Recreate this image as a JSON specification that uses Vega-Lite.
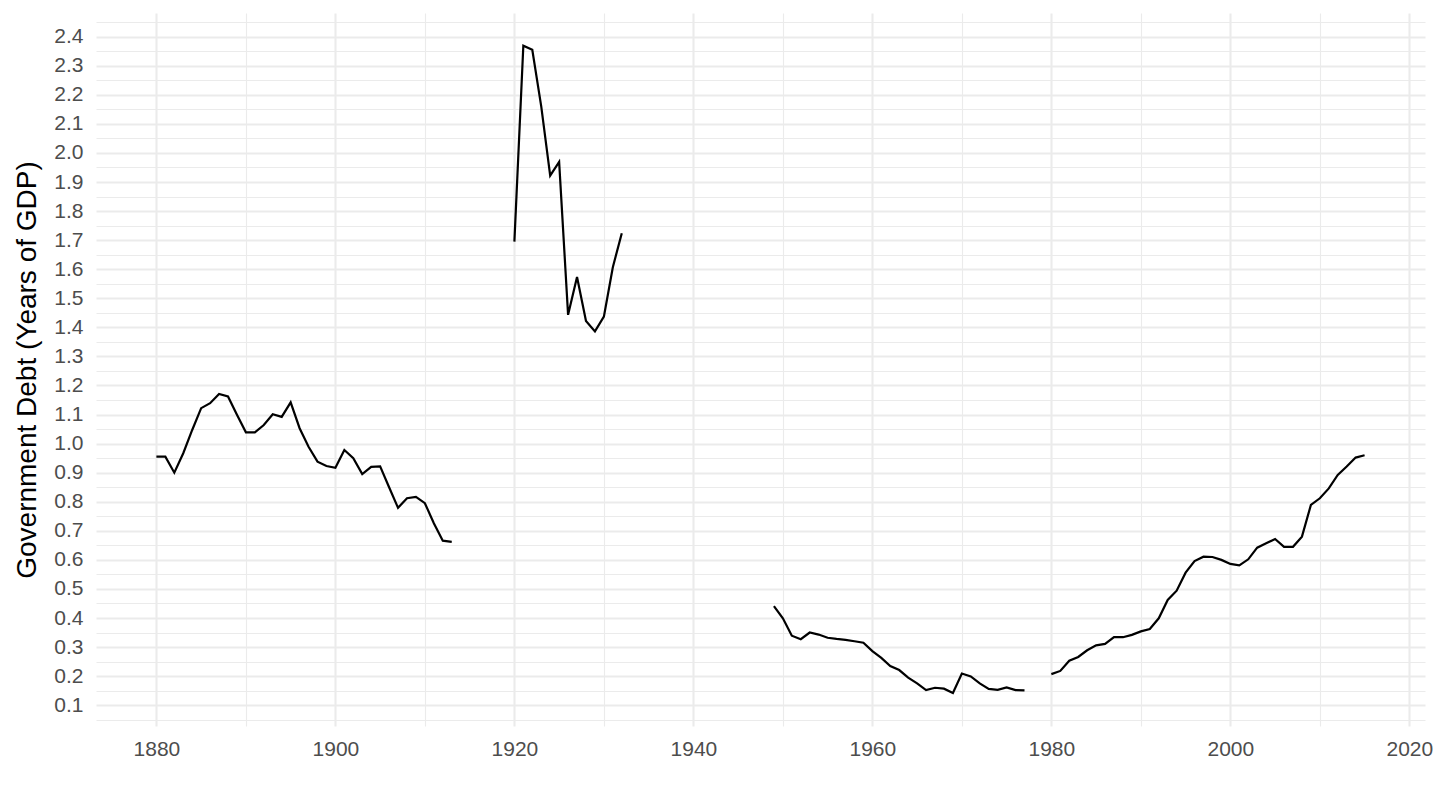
{
  "$schema": "https://vega.github.io/schema/vega-lite/v6.json",
  "width": 1329,
  "height": 713,
  "autosize": {"type": "none"},
  "padding": {"left": 96, "top": 13, "right": 15, "bottom": 84},
  "background": "white",
  "config": {
    "view": {"stroke": null},
    "font": "Liberation Sans"
  },
  "data": {
    "values": [
      {"year": 1880, "debt": 0.955, "seg": "a"},
      {"year": 1881, "debt": 0.955, "seg": "a"},
      {"year": 1882, "debt": 0.900, "seg": "a"},
      {"year": 1883, "debt": 0.967, "seg": "a"},
      {"year": 1884, "debt": 1.047, "seg": "a"},
      {"year": 1885, "debt": 1.122, "seg": "a"},
      {"year": 1886, "debt": 1.139, "seg": "a"},
      {"year": 1887, "debt": 1.171, "seg": "a"},
      {"year": 1888, "debt": 1.162, "seg": "a"},
      {"year": 1889, "debt": 1.099, "seg": "a"},
      {"year": 1890, "debt": 1.039, "seg": "a"},
      {"year": 1891, "debt": 1.039, "seg": "a"},
      {"year": 1892, "debt": 1.064, "seg": "a"},
      {"year": 1893, "debt": 1.101, "seg": "a"},
      {"year": 1894, "debt": 1.092, "seg": "a"},
      {"year": 1895, "debt": 1.142, "seg": "a"},
      {"year": 1896, "debt": 1.053, "seg": "a"},
      {"year": 1897, "debt": 0.989, "seg": "a"},
      {"year": 1898, "debt": 0.938, "seg": "a"},
      {"year": 1899, "debt": 0.923, "seg": "a"},
      {"year": 1900, "debt": 0.917, "seg": "a"},
      {"year": 1901, "debt": 0.978, "seg": "a"},
      {"year": 1902, "debt": 0.950, "seg": "a"},
      {"year": 1903, "debt": 0.895, "seg": "a"},
      {"year": 1904, "debt": 0.920, "seg": "a"},
      {"year": 1905, "debt": 0.922, "seg": "a"},
      {"year": 1906, "debt": 0.850, "seg": "a"},
      {"year": 1907, "debt": 0.779, "seg": "a"},
      {"year": 1908, "debt": 0.812, "seg": "a"},
      {"year": 1909, "debt": 0.817, "seg": "a"},
      {"year": 1910, "debt": 0.795, "seg": "a"},
      {"year": 1911, "debt": 0.726, "seg": "a"},
      {"year": 1912, "debt": 0.666, "seg": "a"},
      {"year": 1913, "debt": 0.662, "seg": "a"},
      {"year": 1920, "debt": 1.695, "seg": "b"},
      {"year": 1921, "debt": 2.369, "seg": "b"},
      {"year": 1922, "debt": 2.355, "seg": "b"},
      {"year": 1923, "debt": 2.160, "seg": "b"},
      {"year": 1924, "debt": 1.922, "seg": "b"},
      {"year": 1925, "debt": 1.969, "seg": "b"},
      {"year": 1926, "debt": 1.443, "seg": "b"},
      {"year": 1927, "debt": 1.573, "seg": "b"},
      {"year": 1928, "debt": 1.422, "seg": "b"},
      {"year": 1929, "debt": 1.386, "seg": "b"},
      {"year": 1930, "debt": 1.437, "seg": "b"},
      {"year": 1931, "debt": 1.607, "seg": "b"},
      {"year": 1932, "debt": 1.724, "seg": "b"},
      {"year": 1949, "debt": 0.441, "seg": "c"},
      {"year": 1950, "debt": 0.399, "seg": "c"},
      {"year": 1951, "debt": 0.339, "seg": "c"},
      {"year": 1952, "debt": 0.327, "seg": "c"},
      {"year": 1953, "debt": 0.350, "seg": "c"},
      {"year": 1954, "debt": 0.343, "seg": "c"},
      {"year": 1955, "debt": 0.332, "seg": "c"},
      {"year": 1956, "debt": 0.328, "seg": "c"},
      {"year": 1957, "debt": 0.325, "seg": "c"},
      {"year": 1958, "debt": 0.320, "seg": "c"},
      {"year": 1959, "debt": 0.315, "seg": "c"},
      {"year": 1960, "debt": 0.286, "seg": "c"},
      {"year": 1961, "debt": 0.263, "seg": "c"},
      {"year": 1962, "debt": 0.235, "seg": "c"},
      {"year": 1963, "debt": 0.221, "seg": "c"},
      {"year": 1964, "debt": 0.195, "seg": "c"},
      {"year": 1965, "debt": 0.175, "seg": "c"},
      {"year": 1966, "debt": 0.152, "seg": "c"},
      {"year": 1967, "debt": 0.160, "seg": "c"},
      {"year": 1968, "debt": 0.157, "seg": "c"},
      {"year": 1969, "debt": 0.142, "seg": "c"},
      {"year": 1970, "debt": 0.209, "seg": "c"},
      {"year": 1971, "debt": 0.199, "seg": "c"},
      {"year": 1972, "debt": 0.175, "seg": "c"},
      {"year": 1973, "debt": 0.156, "seg": "c"},
      {"year": 1974, "debt": 0.153, "seg": "c"},
      {"year": 1975, "debt": 0.161, "seg": "c"},
      {"year": 1976, "debt": 0.152, "seg": "c"},
      {"year": 1977, "debt": 0.151, "seg": "c"},
      {"year": 1980, "debt": 0.207, "seg": "d"},
      {"year": 1981, "debt": 0.218, "seg": "d"},
      {"year": 1982, "debt": 0.253, "seg": "d"},
      {"year": 1983, "debt": 0.266, "seg": "d"},
      {"year": 1984, "debt": 0.289, "seg": "d"},
      {"year": 1985, "debt": 0.306, "seg": "d"},
      {"year": 1986, "debt": 0.311, "seg": "d"},
      {"year": 1987, "debt": 0.334, "seg": "d"},
      {"year": 1988, "debt": 0.334, "seg": "d"},
      {"year": 1989, "debt": 0.342, "seg": "d"},
      {"year": 1990, "debt": 0.354, "seg": "d"},
      {"year": 1991, "debt": 0.362, "seg": "d"},
      {"year": 1992, "debt": 0.399, "seg": "d"},
      {"year": 1993, "debt": 0.462, "seg": "d"},
      {"year": 1994, "debt": 0.494, "seg": "d"},
      {"year": 1995, "debt": 0.556, "seg": "d"},
      {"year": 1996, "debt": 0.596, "seg": "d"},
      {"year": 1997, "debt": 0.611, "seg": "d"},
      {"year": 1998, "debt": 0.610, "seg": "d"},
      {"year": 1999, "debt": 0.600, "seg": "d"},
      {"year": 2000, "debt": 0.586, "seg": "d"},
      {"year": 2001, "debt": 0.581, "seg": "d"},
      {"year": 2002, "debt": 0.602, "seg": "d"},
      {"year": 2003, "debt": 0.642, "seg": "d"},
      {"year": 2004, "debt": 0.657, "seg": "d"},
      {"year": 2005, "debt": 0.672, "seg": "d"},
      {"year": 2006, "debt": 0.645, "seg": "d"},
      {"year": 2007, "debt": 0.645, "seg": "d"},
      {"year": 2008, "debt": 0.680, "seg": "d"},
      {"year": 2009, "debt": 0.789, "seg": "d"},
      {"year": 2010, "debt": 0.812, "seg": "d"},
      {"year": 2011, "debt": 0.846, "seg": "d"},
      {"year": 2012, "debt": 0.892, "seg": "d"},
      {"year": 2013, "debt": 0.921, "seg": "d"},
      {"year": 2014, "debt": 0.952, "seg": "d"},
      {"year": 2015, "debt": 0.960, "seg": "d"}
    ]
  },
  "mark": {"type": "line", "color": "black", "strokeWidth": 2.2},
  "encoding": {
    "x": {
      "field": "year",
      "type": "quantitative",
      "scale": {"domain": [1873.25, 2021.75], "nice": false, "zero": false},
      "axis": {
        "title": null,
        "values": [1880, 1890, 1900, 1910, 1920, 1930, 1940, 1950, 1960, 1970, 1980, 1990, 2000, 2010, 2020],
        "format": "d",
        "labelExpr": "datum.value % 20 == 0 ? datum.label : ''",
        "labelOverlap": false,
        "labelFlush": false,
        "labelFont": "Liberation Sans",
        "labelFontSize": 21,
        "labelColor": "#4D4D4D",
        "labelPadding": 12,
        "ticks": false,
        "domain": false,
        "grid": true,
        "gridColor": "#EBEBEB",
        "gridWidth": {"condition": {"test": "datum.value % 20 == 0", "value": 2.1}, "value": 1.1}
      }
    },
    "y": {
      "field": "debt",
      "type": "quantitative",
      "scale": {"domain": [0.0285, 2.4815], "nice": false, "zero": false},
      "axis": {
        "title": "Government Debt (Years of GDP)",
        "titleFont": "Liberation Sans",
        "titleFontSize": 28,
        "titleFontWeight": "normal",
        "titleColor": "black",
        "titleX": -61,
        "titleBaseline": "alphabetic",
        "values": [0.05, 0.1, 0.15, 0.2, 0.25, 0.3, 0.35, 0.4, 0.45, 0.5, 0.55, 0.6, 0.65, 0.7, 0.75, 0.8, 0.85, 0.9, 0.95, 1.0, 1.05, 1.1, 1.15, 1.2, 1.25, 1.3, 1.35, 1.4, 1.45, 1.5, 1.55, 1.6, 1.65, 1.7, 1.75, 1.8, 1.85, 1.9, 1.95, 2.0, 2.05, 2.1, 2.15, 2.2, 2.25, 2.3, 2.35, 2.4, 2.45],
        "labelExpr": "round(datum.value * 20) % 2 == 0 ? format(datum.value, '.1f') : ''",
        "labelOverlap": false,
        "labelFlush": false,
        "labelFont": "Liberation Sans",
        "labelFontSize": 21,
        "labelColor": "#4D4D4D",
        "labelPadding": 13,
        "ticks": false,
        "domain": false,
        "grid": true,
        "gridColor": "#EBEBEB",
        "gridWidth": {"condition": {"test": "round(datum.value * 20) % 2 == 0", "value": 2.1}, "value": 1.1}
      }
    },
    "detail": {"field": "seg", "type": "nominal"}
  }
}
